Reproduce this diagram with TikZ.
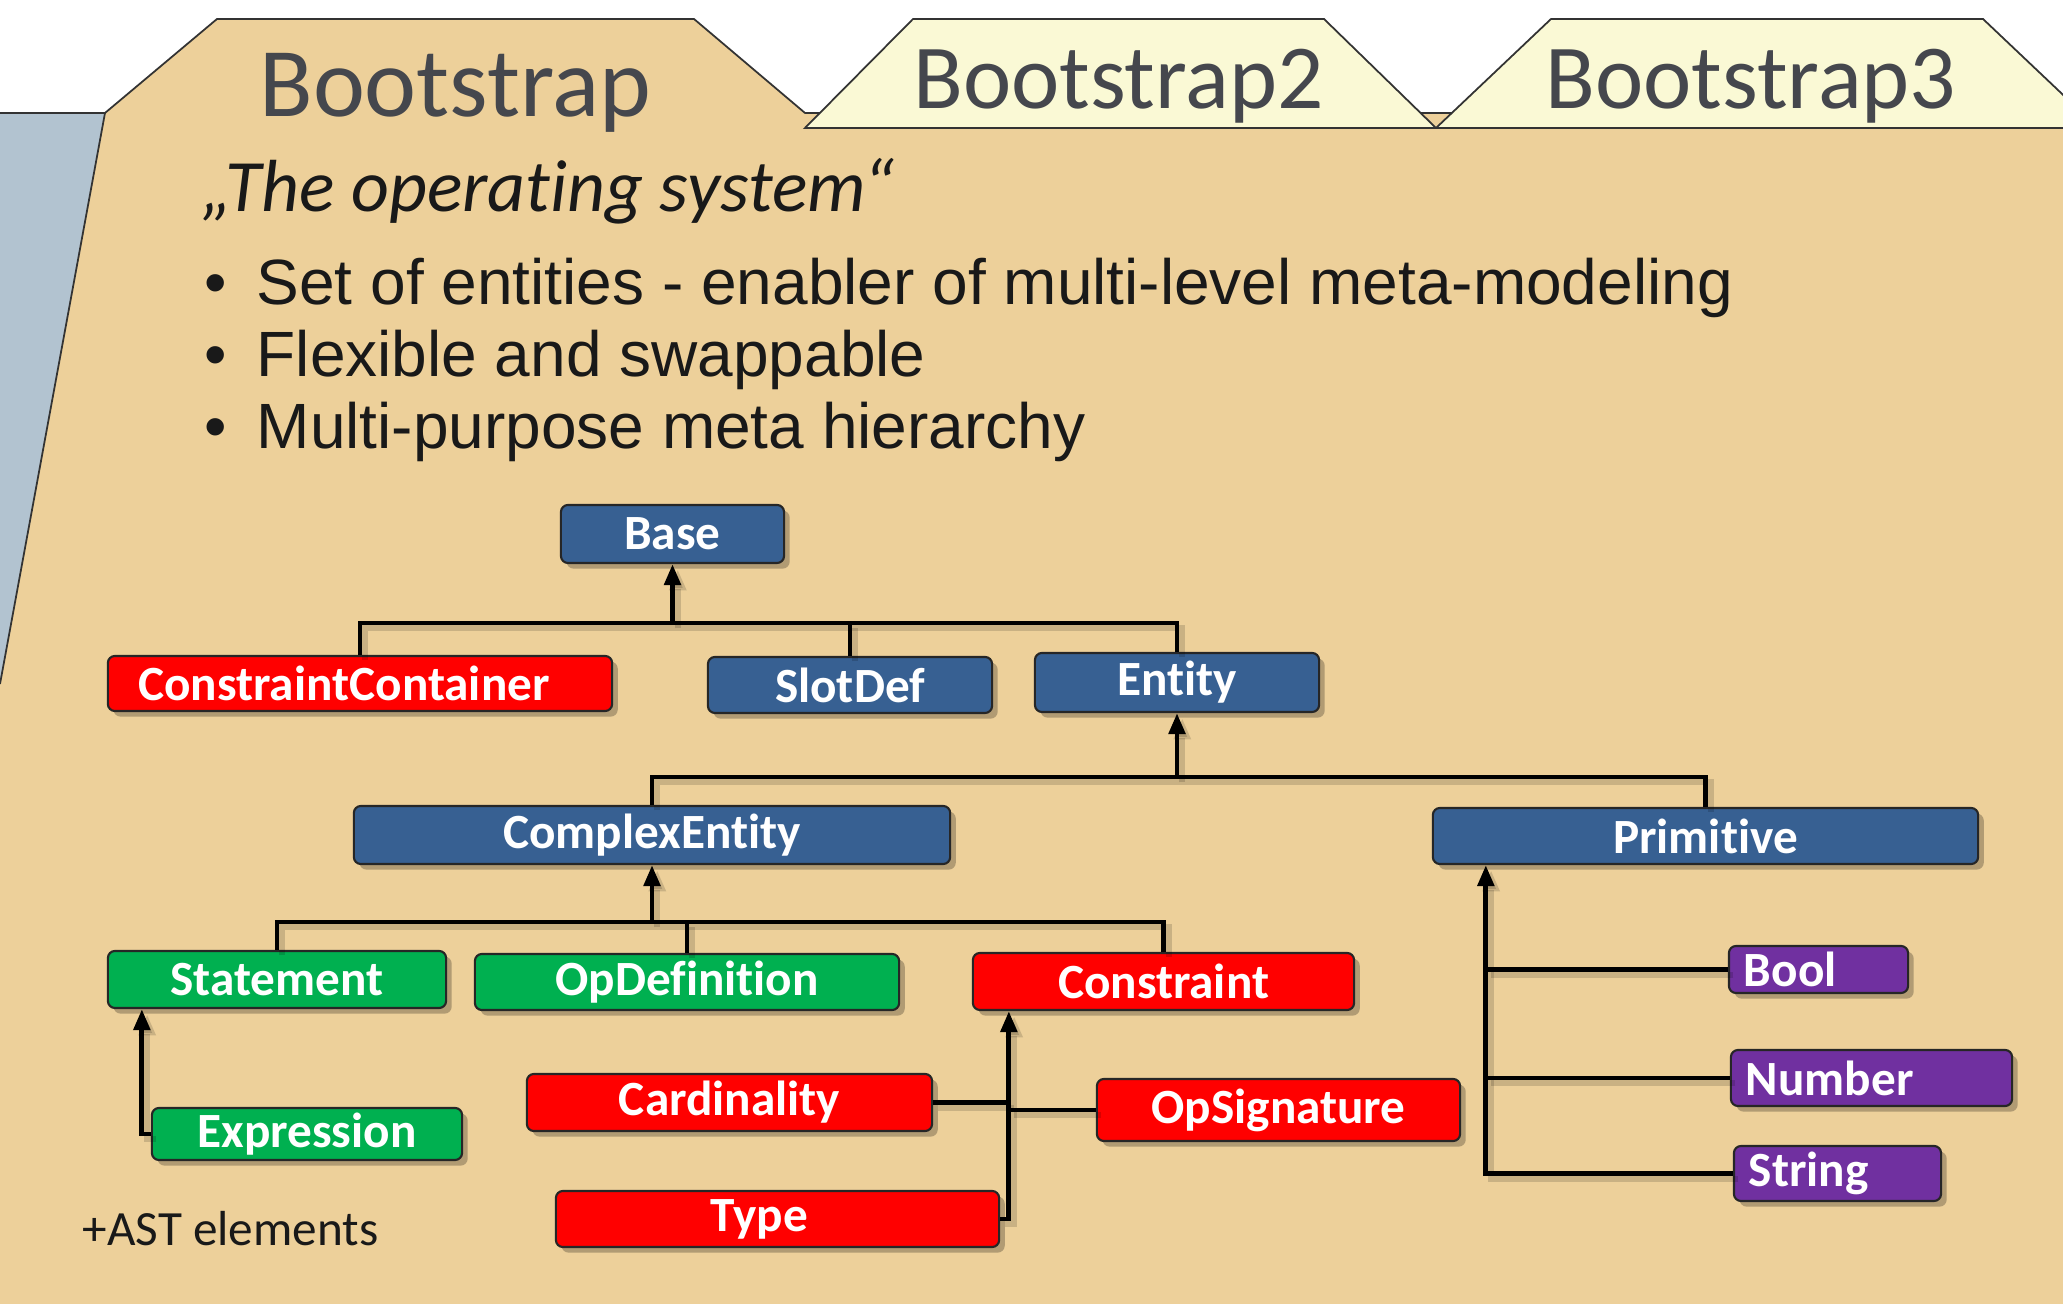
\documentclass[tikz,border=0pt]{standalone}
\usepackage{fontspec}
\setmainfont{Carlito}[Ligatures={NoCommon,NoContextual},Contextuals=NoAlternate]
\newfontfamily\arialf{Liberation Sans}
\usetikzlibrary{shadows,arrows.meta}

\definecolor{bodytan}{HTML}{EDD09A}
\definecolor{panelgray}{HTML}{B2C3D0}
\definecolor{tabyellow}{HTML}{FAF9D5}
\definecolor{titlegray}{HTML}{45474D}
\definecolor{nblue}{HTML}{376092}
\definecolor{nred}{HTML}{FF0000}
\definecolor{ngreen}{HTML}{00B050}
\definecolor{npurple}{HTML}{7030A0}

\begin{document}
\begin{tikzpicture}[x=0.01cm,y=-0.01cm,
  outline/.style={draw=black!80, line width=0.5pt, line join=miter},
  cls/.style={rounded corners=2pt, draw=black!85, line width=0.6pt, text=white,
    font=\fontsize{14}{16}\selectfont\bfseries, inner sep=0pt,
    drop shadow={shadow xshift=1.6pt, shadow yshift=-1.6pt, opacity=0.25, fill=black}},
  bluecls/.style={cls, fill=nblue},
  redcls/.style={cls, fill=nred},
  greencls/.style={cls, fill=ngreen},
  purplecls/.style={cls, fill=npurple, align=left},
  ln/.style={line width=1.4pt, line join=miter,
    preaction={draw=black, opacity=0.15, line width=1.8pt,
      transform canvas={shift={(1.5pt,-1.5pt)}}}},
  arr/.style={ln, -{Triangle[length=6pt,width=4.6pt]}},
  tabtitle/.style={anchor=base, inner sep=0pt, text=titlegray},
  bullettext/.style={anchor=base west, inner sep=0pt, font=\arialf\fontsize{18.2}{21}\selectfont, text=black!90},
  bulletdot/.style={anchor=base, inner sep=0pt, font=\arialf\fontsize{18.2}{21}\selectfont, text=black!90}
]
\useasboundingbox (0,0) rectangle (2063,1304);
\fill[white] (0,0) rectangle (2063,1304);

% side panel peeking out on the left
\fill[panelgray] (0,113) -- (105,113) -- (0,684) -- cycle;
\draw[outline] (0,113) -- (105,113);

% main folder with its tab
\fill[bodytan] (0,684) -- (105,113) -- (217,19) -- (694,19) -- (805,113)
  -- (2063,113) -- (2063,1304) -- (0,1304) -- cycle;
\draw[outline] (0,684) -- (105,113) -- (217,19) -- (694,19) -- (805,113) -- (2063,113);

% inactive tabs
\filldraw[outline, fill=tabyellow] (805,128) -- (913,19) -- (1324,19) -- (1436,128) -- cycle;
\begin{scope}
  \clip (0,0) rectangle (2063,1304);
  \filldraw[outline, fill=tabyellow] (1436,128) -- (1551,19) -- (1983,19) -- (2098,128) -- cycle;
\end{scope}

% tab titles
\node[tabtitle, font=\fontsize{28}{30}\selectfont] (t1) at (455.5,117) {Bootstrap};
\node[tabtitle, font=\fontsize{26}{28}\selectfont] (t2) at (1118.5,109) {Bootstrap2};
\node[tabtitle, font=\fontsize{26}{28}\selectfont] (t3) at (1751,109) {Bootstrap3};

% subtitle and bullet list
\node[anchor=base west, inner sep=0pt, font=\itshape\fontsize{21}{24}\selectfont, text=black!90]
  (sub) at (201,212) {„The operating system“};
\node[bulletdot] (d1) at (216,305) {•};
\node[bulletdot] (d2) at (216,377) {•};
\node[bulletdot] (d3) at (216,449) {•};
\node[bullettext] (b1) at (256,305) {Set of entities - enabler of multi-level meta-modeling};
\node[bullettext] (b2) at (256,377) {Flexible and swappable};
\node[bullettext] (b3) at (256,449) {Multi-purpose meta hierarchy};

% class hierarchy
\node[bluecls, minimum width=2.23cm, minimum height=0.58cm] (base) at (672.5,534) {Base};
\node[redcls, minimum width=5.04cm, minimum height=0.55cm] (cc) at (360,683.5) {\hspace*{-0.32cm}ConstraintContainer};
\node[bluecls, minimum width=2.84cm, minimum height=0.56cm] (slot) at (850,685) {SlotDef};
\node[bluecls, minimum width=2.84cm, minimum height=0.59cm] (entity) at (1177,682.5) {Entity};
\node[bluecls, minimum width=5.96cm, minimum height=0.58cm] (complex) at (652,835) {ComplexEntity};
\node[bluecls, minimum width=5.45cm, minimum height=0.56cm] (prim) at (1705.5,836) {Primitive};
\node[greencls, minimum width=3.38cm, minimum height=0.57cm] (stmt) at (277,979.5) {Statement};
\node[greencls, minimum width=4.24cm, minimum height=0.56cm] (opdef) at (687,982) {OpDefinition};
\node[redcls, minimum width=3.81cm, minimum height=0.57cm] (constr) at (1163.5,981.5) {Constraint};
\node[greencls, minimum width=3.10cm, minimum height=0.52cm] (expr) at (307,1134) {Expression};
\node[redcls, minimum width=4.05cm, minimum height=0.57cm] (card) at (729.5,1102.5) {Cardinality};
\node[redcls, minimum width=4.43cm, minimum height=0.56cm] (type) at (777.5,1219) {\hspace*{-0.36cm}Type};
\node[redcls, minimum width=3.63cm, minimum height=0.62cm] (opsig) at (1278.5,1110) {OpSignature};
\node[purplecls, text width=1.49cm, minimum height=0.47cm, inner xsep=0.15cm] (bool) at (1818.5,969.5) {Bool};
\node[purplecls, text width=2.51cm, minimum height=0.56cm, inner xsep=0.15cm] (number) at (1871.5,1078) {Number};
\node[purplecls, text width=1.77cm, minimum height=0.55cm, inner xsep=0.15cm] (string) at (1837.5,1173.5) {String};

% generalisation connectors
\coordinate (j1) at (672.5,623);
\draw[ln] (cc.north) |- (j1) -| (entity.north);
\draw[ln] (slot.north) -- (slot.north |- j1);
\draw[arr] (j1) -- (base.south);

\coordinate (j2) at (1177,777);
\draw[ln] (complex.north) |- (j2) -| (prim.north);
\draw[arr] (j2) -- (entity.south);

\coordinate (j3) at (652,922);
\draw[ln] (stmt.north) |- (j3) -| (constr.north);
\draw[ln] (opdef.north) -- (opdef.north |- j3);
\draw[arr] (j3) -- (complex.south);

\coordinate (sx) at ([xshift=0.35cm]stmt.south west);
\draw[arr] (expr.west) -| (sx);

\coordinate (cx) at ([xshift=0.37cm]constr.south west);
\draw[arr] (type.east) -| (cx);
\draw[ln] (card.east) -- (card.east -| cx);
\draw[ln] (opsig.west) -- (opsig.west -| cx);

\coordinate (px) at ([xshift=0.54cm]prim.south west);
\draw[arr] (string.west) -| (px);
\draw[ln] (bool.west) -- (bool.west -| px);
\draw[ln] (number.west) -- (number.west -| px);

% footnote
\node[anchor=base west, inner sep=0pt, font=\fontsize{14}{16}\selectfont, text=black!90]
  (ast) at (82,1246) {+AST elements};
\end{tikzpicture}
\end{document}
